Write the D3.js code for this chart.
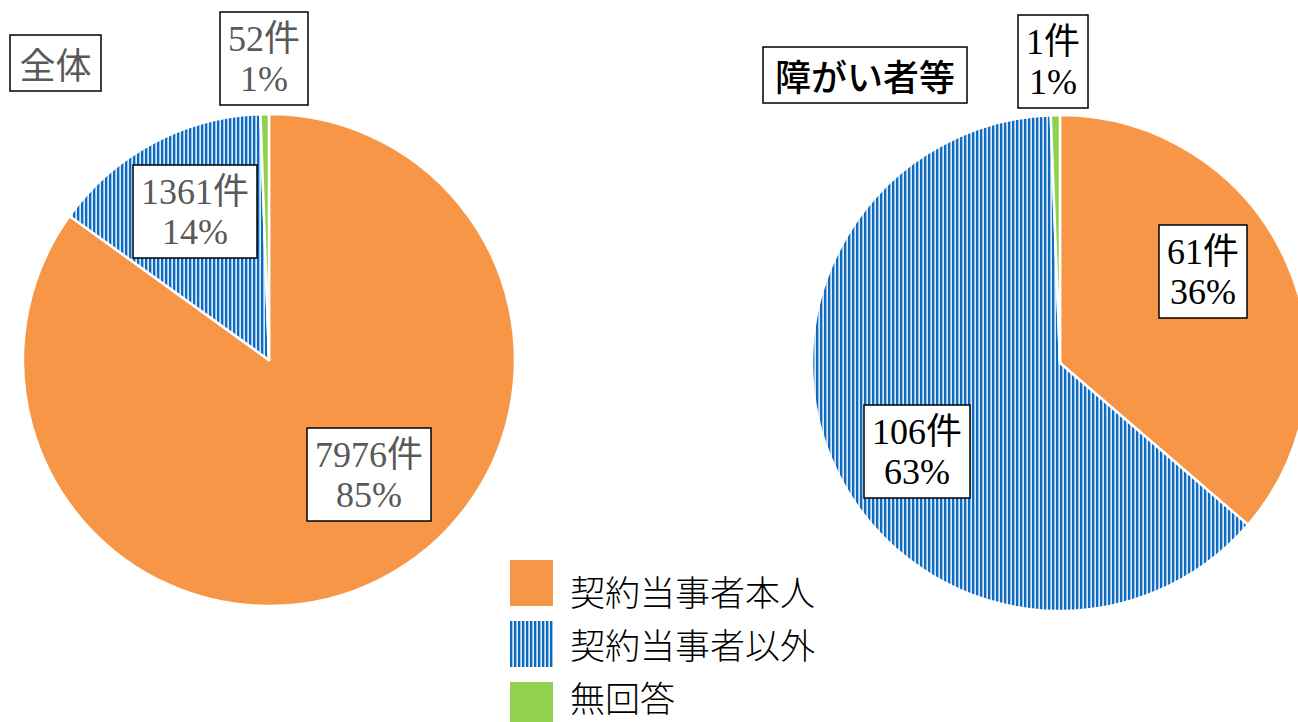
<!DOCTYPE html>
<html>
<head>
<meta charset="utf-8">
<script src="https://cdn.jsdelivr.net/npm/d3@7"></script>
<style>
  body { margin: 0; background: #fff; }
  svg { display: block; }
</style>
</head>
<body>
<div id="chart"></div>
<script>
const categories = ["契約当事者本人", "契約当事者以外", "無回答"];
const allCounts = [7976, 1361, 52];
const allPercents = ["85%", "14%", "1%"];
const disCounts = [61, 106, 1];
const disPercents = ["36%", "63%", "1%"];
const titles = ["全体", "障がい者等"];

const width = 1298, height = 722;
const colors = ["#F79646", "url(#stripes)", "#92D050"];
const serif = "'Liberation Serif', 'DejaVu Serif', 'Noto Sans CJK JP', serif";

const svg = d3.select("#chart").append("svg")
  .attr("width", width)
  .attr("height", height);

// vertical stripe fill for the second category
const defs = svg.append("defs");
const pat = defs.append("pattern")
  .attr("id", "stripes")
  .attr("patternUnits", "userSpaceOnUse")
  .attr("width", 4)
  .attr("height", 4);
pat.append("rect").attr("width", 4).attr("height", 4).attr("fill", "#dde9f6");
pat.append("rect").attr("x", 0).attr("width", 2).attr("height", 4).attr("fill", "#0b6cc2");
pat.append("rect").attr("x", 2).attr("width", 1).attr("height", 4).attr("fill", "#9cc2e8");

const pie = d3.pie().sort(null).value(d => d);
const arc = d3.arc().innerRadius(0);

const charts = [
  {
    title: titles[0], counts: allCounts, pcts: allPercents,
    cx: 269, cy: 360, r: 246, color: "#595959",
    titleBox: { x: 10, y: 35, w: 91, h: 56 },
    // label centres, relative to the pie centre
    labels: [[100, 114], [-74, -149], [-5, -302]]
  },
  {
    title: titles[1], counts: disCounts, pcts: disPercents,
    cx: 1060, cy: 363, r: 248, color: "#000",
    titleBox: { x: 763, y: 47, w: 204, h: 56 },
    labels: [[143, -92], [-143, 88], [-7, -302]]
  }
];

charts.forEach(c => {
  const g = svg.append("g").attr("transform", `translate(${c.cx},${c.cy})`);

  g.selectAll("path")
    .data(pie(c.counts))
    .enter()
    .append("path")
    .attr("d", d => arc.outerRadius(c.r)(d))
    .attr("fill", (d, i) => colors[i])
    .attr("stroke", "#fff")
    .attr("stroke-width", 2.5)
    .attr("stroke-linejoin", "round");

  // data labels
  c.counts.forEach((v, i) => {
    const lg = g.append("g")
      .attr("transform", `translate(${c.labels[i][0]},${c.labels[i][1]})`);
    const box = lg.append("rect");
    const t = lg.append("text")
      .attr("text-anchor", "middle")
      .attr("font-family", serif)
      .attr("font-size", 36)
      .attr("fill", c.color);
    t.append("tspan").attr("x", 0).attr("y", -7).attr("font-family", serif).text(v + "件");
    t.append("tspan").attr("x", 0).attr("y", 33).attr("font-family", serif).text(c.pcts[i]);
    const bb = t.node().getBBox();
    box.attr("x", bb.x - 8)
      .attr("y", -46)
      .attr("width", bb.width + 16)
      .attr("height", 93)
      .attr("fill", "#fff")
      .attr("stroke", "#000")
      .attr("stroke-width", 1.5);
  });

  // chart title box
  svg.append("rect")
    .attr("x", c.titleBox.x)
    .attr("y", c.titleBox.y)
    .attr("width", c.titleBox.w)
    .attr("height", c.titleBox.h)
    .attr("fill", "#fff")
    .attr("stroke", "#000")
    .attr("stroke-width", 1.5);
  svg.append("text")
    .attr("x", c.titleBox.x + c.titleBox.w / 2)
    .attr("y", c.titleBox.y + c.titleBox.h / 2)
    .attr("text-anchor", "middle")
    .attr("dominant-baseline", "central")
    .style("font-family", "'Noto Sans CJK JP', sans-serif")
    .style("font-size", "36px")
    .style("font-weight", c.color === "#000" ? "500" : "400")
    .attr("fill", c.color)
    .text(c.title);
});

// legend: swatches step 61px, text rows step 53px (as in the reference)
const legend = svg.append("g").attr("transform", "translate(510,560)");
legend.selectAll("rect")
  .data(categories)
  .enter()
  .append("rect")
  .attr("y", (d, i) => i * 61)
  .attr("width", 43)
  .attr("height", 46)
  .attr("fill", (d, i) => colors[i]);
legend.selectAll("text")
  .data(categories)
  .enter()
  .append("text")
  .attr("x", 60)
  .attr("y", (d, i) => 30 + i * 53)
  .attr("dominant-baseline", "central")
  .style("font-family", "'Noto Sans CJK JP', sans-serif")
  .style("font-size", "35px")
  .style("font-weight", "300")
  .attr("fill", "#000")
  .text(d => d);
</script>
</body>
</html>
